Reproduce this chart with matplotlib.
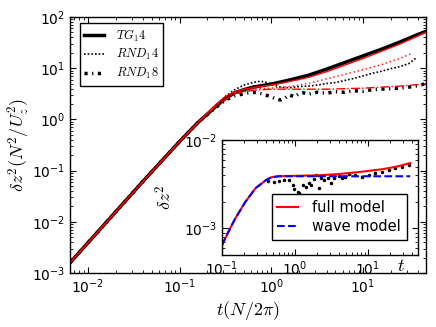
import matplotlib

matplotlib.use("Agg")
import matplotlib.pyplot as plt
import numpy as np

# all values stored as log10 exponents
# main panel, x = log10 t(N/2pi), y = log10 dz^2 (N^2/U_z^2)
early_lx = [-2.196, -2.0, -1.8, -1.6, -1.4, -1.2, -1.0, -0.8]
early_ly = [-2.80, -2.41, -2.01, -1.61, -1.21, -0.82, -0.43, -0.06]

tg14_lx = early_lx + [-0.6, -0.5, -0.4, -0.3, -0.2, -0.1, 0.0, 0.2, 0.4, 0.6, 0.8,
                      1.0, 1.2, 1.4, 1.6, 1.687]
tg14_ly = early_ly + [0.26, 0.41, 0.52, 0.58, 0.63, 0.66, 0.69, 0.77, 0.86, 0.98, 1.11,
                      1.24, 1.37, 1.51, 1.66, 1.72]
tg14_model_ly = early_ly + [0.30, 0.45, 0.54, 0.59, 0.62, 0.65, 0.67, 0.74, 0.82, 0.93, 1.06,
                            1.19, 1.33, 1.47, 1.63, 1.71]

rnd14_lx = early_lx + [-0.6, -0.5, -0.4, -0.3, -0.2, -0.15, -0.1, -0.05, 0.0, 0.05, 0.1,
                       0.15, 0.2, 0.3, 0.4, 0.5, 0.6, 0.7, 0.8, 0.9, 1.0, 1.1, 1.2,
                       1.3, 1.4, 1.5, 1.58]
rnd14_ly = early_ly + [0.28, 0.45, 0.58, 0.67, 0.72, 0.74, 0.74, 0.72, 0.69, 0.66, 0.63,
                       0.62, 0.62, 0.64, 0.65, 0.67, 0.70, 0.72, 0.76, 0.80, 0.85, 0.90, 0.94,
                       0.99, 1.03, 1.09, 1.20]
rnd14_model_lx = early_lx + [-0.6, -0.4, -0.2, 0.0, 0.2, 0.4, 0.6, 0.8, 1.0, 1.2, 1.4, 1.52]
rnd14_model_ly = early_ly + [0.28, 0.52, 0.60, 0.61, 0.64, 0.70, 0.79, 0.88, 0.97, 1.07,
                             1.19, 1.28]

rnd18_lx = early_lx + [-0.6, -0.5, -0.4, -0.3, -0.25, -0.2, -0.15, -0.1, -0.05, 0.0, 0.05,
                       0.1, 0.15, 0.2, 0.25, 0.3, 0.35, 0.4, 0.5, 0.6, 0.7, 0.8, 0.9,
                       1.0, 1.1, 1.2, 1.3, 1.4, 1.5, 1.6, 1.687]
rnd18_ly = early_ly + [0.24, 0.38, 0.46, 0.50, 0.52, 0.53, 0.52, 0.50, 0.47, 0.44, 0.40,
                       0.38, 0.42, 0.48, 0.44, 0.50, 0.52, 0.49, 0.53, 0.51, 0.54, 0.53, 0.56,
                       0.55, 0.58, 0.59, 0.60, 0.61, 0.63, 0.66, 0.70]
rnd18_model_lx = early_lx + [-0.6, -0.4, -0.2, 0.0, 0.2, 0.4, 0.6, 0.8, 1.0, 1.2, 1.4,
                             1.6, 1.687]
rnd18_model_ly = early_ly + [0.27, 0.50, 0.57, 0.59, 0.59, 0.59, 0.59, 0.60, 0.61, 0.63,
                             0.65, 0.68, 0.70]

# inset, x = log10 t, y = log10 dz^2
inset_lx = [-1.0, -0.92, -0.82, -0.68, -0.54, -0.40, -0.32, -0.22, 0.0, 0.3, 0.6, 0.9,
            1.2, 1.4, 1.58]
full_ly = [-3.19, -3.05, -2.89, -2.70, -2.545, -2.455, -2.42, -2.41, -2.405, -2.40, -2.385,
           -2.36, -2.33, -2.30, -2.26]
wave_ly = [-3.19, -3.05, -2.89, -2.70, -2.545, -2.455, -2.42, -2.41, -2.41, -2.41, -2.41,
           -2.41, -2.41, -2.41, -2.41]
dots_lx = [-0.375, -0.29, -0.22, -0.15, -0.08, -0.03, -0.01, 0.04, 0.06, 0.11, 0.15, 0.19,
           0.22, 0.26, 0.29, 0.33, 0.36, 0.40, 0.46, 0.50, 0.54, 0.60, 0.64, 0.68, 0.74,
           0.82, 0.92, 1.01, 1.10, 1.19, 1.29, 1.375, 1.47, 1.57]
dots_ly = [-2.466, -2.477, -2.466, -2.455, -2.455, -2.51, -2.557, -2.59, -2.60, -2.51,
           -2.534, -2.49, -2.51, -2.443, -2.40, -2.545, -2.43, -2.455, -2.43, -2.49, -2.43,
           -2.41, -2.43, -2.42, -2.386, -2.40, -2.42, -2.40, -2.375, -2.364, -2.34, -2.318,
           -2.307, -2.284]

plt.rcParams["mathtext.fontset"] = "cm"
plt.rcParams["font.family"] = "DejaVu Sans"
plt.rcParams["xtick.direction"] = "in"
plt.rcParams["ytick.direction"] = "in"
plt.rcParams["xtick.top"] = True
plt.rcParams["ytick.right"] = True
plt.rcParams["xtick.major.size"] = 4
plt.rcParams["ytick.major.size"] = 4
plt.rcParams["xtick.minor.size"] = 2
plt.rcParams["ytick.minor.size"] = 2
plt.rcParams["xtick.minor.visible"] = True
plt.rcParams["ytick.minor.visible"] = True
plt.rcParams["axes.linewidth"] = 1.0


def p10(v):
    return np.power(10.0, np.asarray(v))


fig = plt.figure(figsize=(4.36, 3.27), dpi=100)
ax = fig.add_axes([70 / 436, 1 - 273 / 327, 356 / 436, 256 / 327])

ax.plot(p10(tg14_lx), p10(tg14_ly), color="k", lw=2.5, label="$TG_14$")
ax.plot(p10(rnd14_lx), p10(rnd14_ly), color="k", lw=1.2, ls=(0, (1, 1.2)), label="$RND_14$")
ax.plot(p10(rnd18_lx), p10(rnd18_ly), color="k", lw=2.5, ls=(0, (0.9, 1.3, 0.35, 1.3)),
        label="$RND_18$")
ax.plot(p10(tg14_lx), p10(tg14_model_ly), color="r", lw=1.0)
ax.plot(p10(rnd14_model_lx), p10(rnd14_model_ly), color="r", lw=1.0, ls=(0, (1, 2)))
ax.plot(p10(rnd18_model_lx), p10(rnd18_model_ly), color="r", lw=1.0, ls="-.")

ax.set_xscale("log")
ax.set_yscale("log")
ax.set_xlim(10 ** -2.196, 10 ** 1.687)
ax.set_ylim(1e-3, 1e2)
ax.tick_params(labelsize=10)
ax.set_xlabel(r"$t(N/2\pi)$", fontsize=13, labelpad=2)
ax.set_ylabel(r"$\delta z^2(N^2/U_z^2)$", fontsize=13, labelpad=0)
ax.legend(loc="upper left", bbox_to_anchor=(80 / 436, 1 - 23 / 327),
          bbox_transform=fig.transFigure, borderaxespad=0, fontsize=9,
          fancybox=False, edgecolor="k", framealpha=1, handlelength=1.6,
          handletextpad=0.9, labelspacing=0.3, borderpad=0.35)

ax_in = fig.add_axes([222 / 436, 1 - 255 / 327, 196 / 436, 115 / 327])
ax_in.plot(p10(dots_lx), p10(dots_ly), "k.", ms=3)
ax_in.plot(p10(inset_lx), p10(full_ly), color="r", lw=1.5, label="full model")
ax_in.plot(p10(inset_lx), p10(wave_ly), color="b", lw=1.5, ls="--", label="wave model")
ax_in.set_xscale("log")
ax_in.set_yscale("log")
ax_in.set_xlim(0.1, 10 ** 1.687)
ax_in.set_ylim(10 ** -3.30, 1e-2)
ax_in.tick_params(labelsize=10)
ax_in.set_xlabel("$t$", fontsize=13)
ax_in.xaxis.set_label_coords(0.915, -0.02)
ax_in.set_ylabel(r"$\delta z^2$", fontsize=13)
ax_in.yaxis.set_label_coords(-0.24, 0.5)
ax_in.legend(loc="lower right", bbox_to_anchor=(407 / 436, 1 - 240 / 327),
             bbox_transform=fig.transFigure, borderaxespad=0, fontsize=10.5,
             fancybox=False, edgecolor="k", framealpha=1, handlelength=1.4,
             handletextpad=1.0, labelspacing=0.3)

fig.savefig("out.png", dpi=100)
